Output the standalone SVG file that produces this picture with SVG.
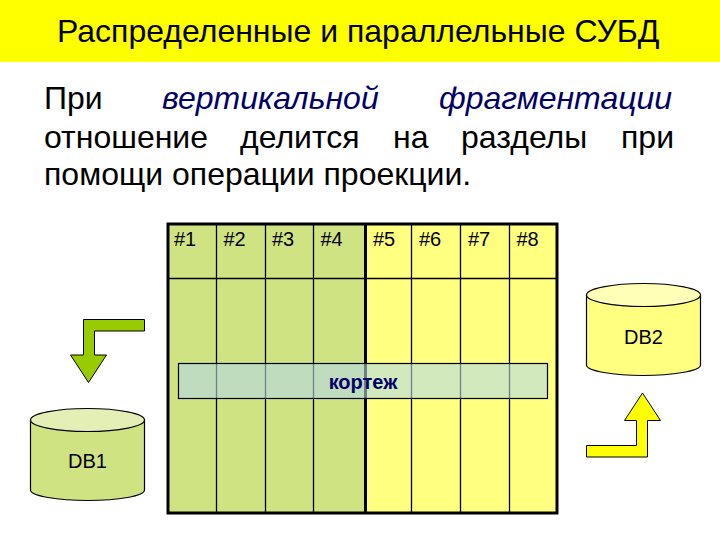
<svg xmlns="http://www.w3.org/2000/svg" width="720" height="540" viewBox="0 0 720 540">
<style>
text{font-family:"Liberation Sans",Arial,sans-serif;fill:#000}
.t{font-size:32px}
.i{font-style:italic;fill:#000066}
.h{font-size:20px}
.d{font-size:20px;text-anchor:middle}
.ln{stroke:#000;stroke-width:1.3;fill:none}
.s{stroke:#000;stroke-width:1.2}
</style>
<rect width="720" height="62" fill="#ffff00"/>
<text class="t" x="57" y="42" id="title">Распределенные и параллельные СУБД</text>
<g id="body">
<text class="t" x="44" y="108.500">При</text>
<text class="t i" x="162" y="108.500">вертикальной</text>
<text class="t i" x="439" y="108.500">фрагментации</text>
<text class="t" x="44" y="147.500">отношение</text>
<text class="t" x="240" y="147.500">делится</text>
<text class="t" x="393" y="147.500">на</text>
<text class="t" x="461" y="147.500">разделы</text>
<text class="t" x="621" y="147.500">при</text>
<text class="t" x="44" y="185">помощи операции проекции.</text>
</g>
<g id="table">
<rect x="168" y="223" width="198" height="290" fill="#cfe383"/>
<rect x="366" y="223" width="192" height="290" fill="#ffff80"/>
<path class="ln" d="M216.500 223V513M265.500 223V513M313.500 223V513M411.500 223V513M460.500 223V513M509.500 223V513M168 278.500H558"/>
<path d="M365.500 223V513" stroke="#000" stroke-width="3" fill="none"/>
<rect x="168" y="224" width="389" height="289" fill="none" stroke="#000" stroke-width="3"/>
<g>
<text class="h" x="174" y="246">#1</text>
<text class="h" x="223.500" y="246">#2</text>
<text class="h" x="272" y="246">#3</text>
<text class="h" x="320.500" y="246">#4</text>
<text class="h" x="373" y="246">#5</text>
<text class="h" x="419" y="246">#6</text>
<text class="h" x="468" y="246">#7</text>
<text class="h" x="516.500" y="246">#8</text>
</g>
</g>
<g id="tuple">
<rect x="178.500" y="363.500" width="369" height="35" fill="#b4d9e6" fill-opacity="0.6" stroke="#000" stroke-width="1.200"/>
<text x="363" y="389" font-size="20" font-weight="bold" text-anchor="middle" style="fill:#000066">кортеж</text>
</g>
<g id="db1">
<path class="s" d="M30.500 420V490C30.500 496 58 500.500 88 500.500S144.500 496 144.500 490V420Z" fill="#cfe383"/>
<ellipse class="s" cx="87.500" cy="420" rx="57" ry="11.500" fill="#e3efb5"/>
<text class="d" x="87.500" y="468">DB1</text>
</g>
<g id="db2">
<path class="s" d="M586.500 295V365C586.500 371 614 375.500 643 375.500S700.500 371 700.500 365V295Z" fill="#ffff80"/>
<ellipse class="s" cx="643.500" cy="295" rx="57" ry="11.500" fill="#ffffb8"/>
<text class="d" x="643.500" y="343.500">DB2</text>
</g>
<g id="connectors">
<path d="M144.500 319.500V331H94.500V355H106.500L88.500 382.500L70.500 355H83.500V319.500Z" fill="#99cc00" stroke="#000" stroke-width="1"/>
<path d="M586.500 445.500V457H647.500V420.500H660.500L642.500 393L624.500 420.500H636.500V445.500Z" fill="#ffff00" stroke="#000" stroke-width="1"/>
</g>
</svg>
